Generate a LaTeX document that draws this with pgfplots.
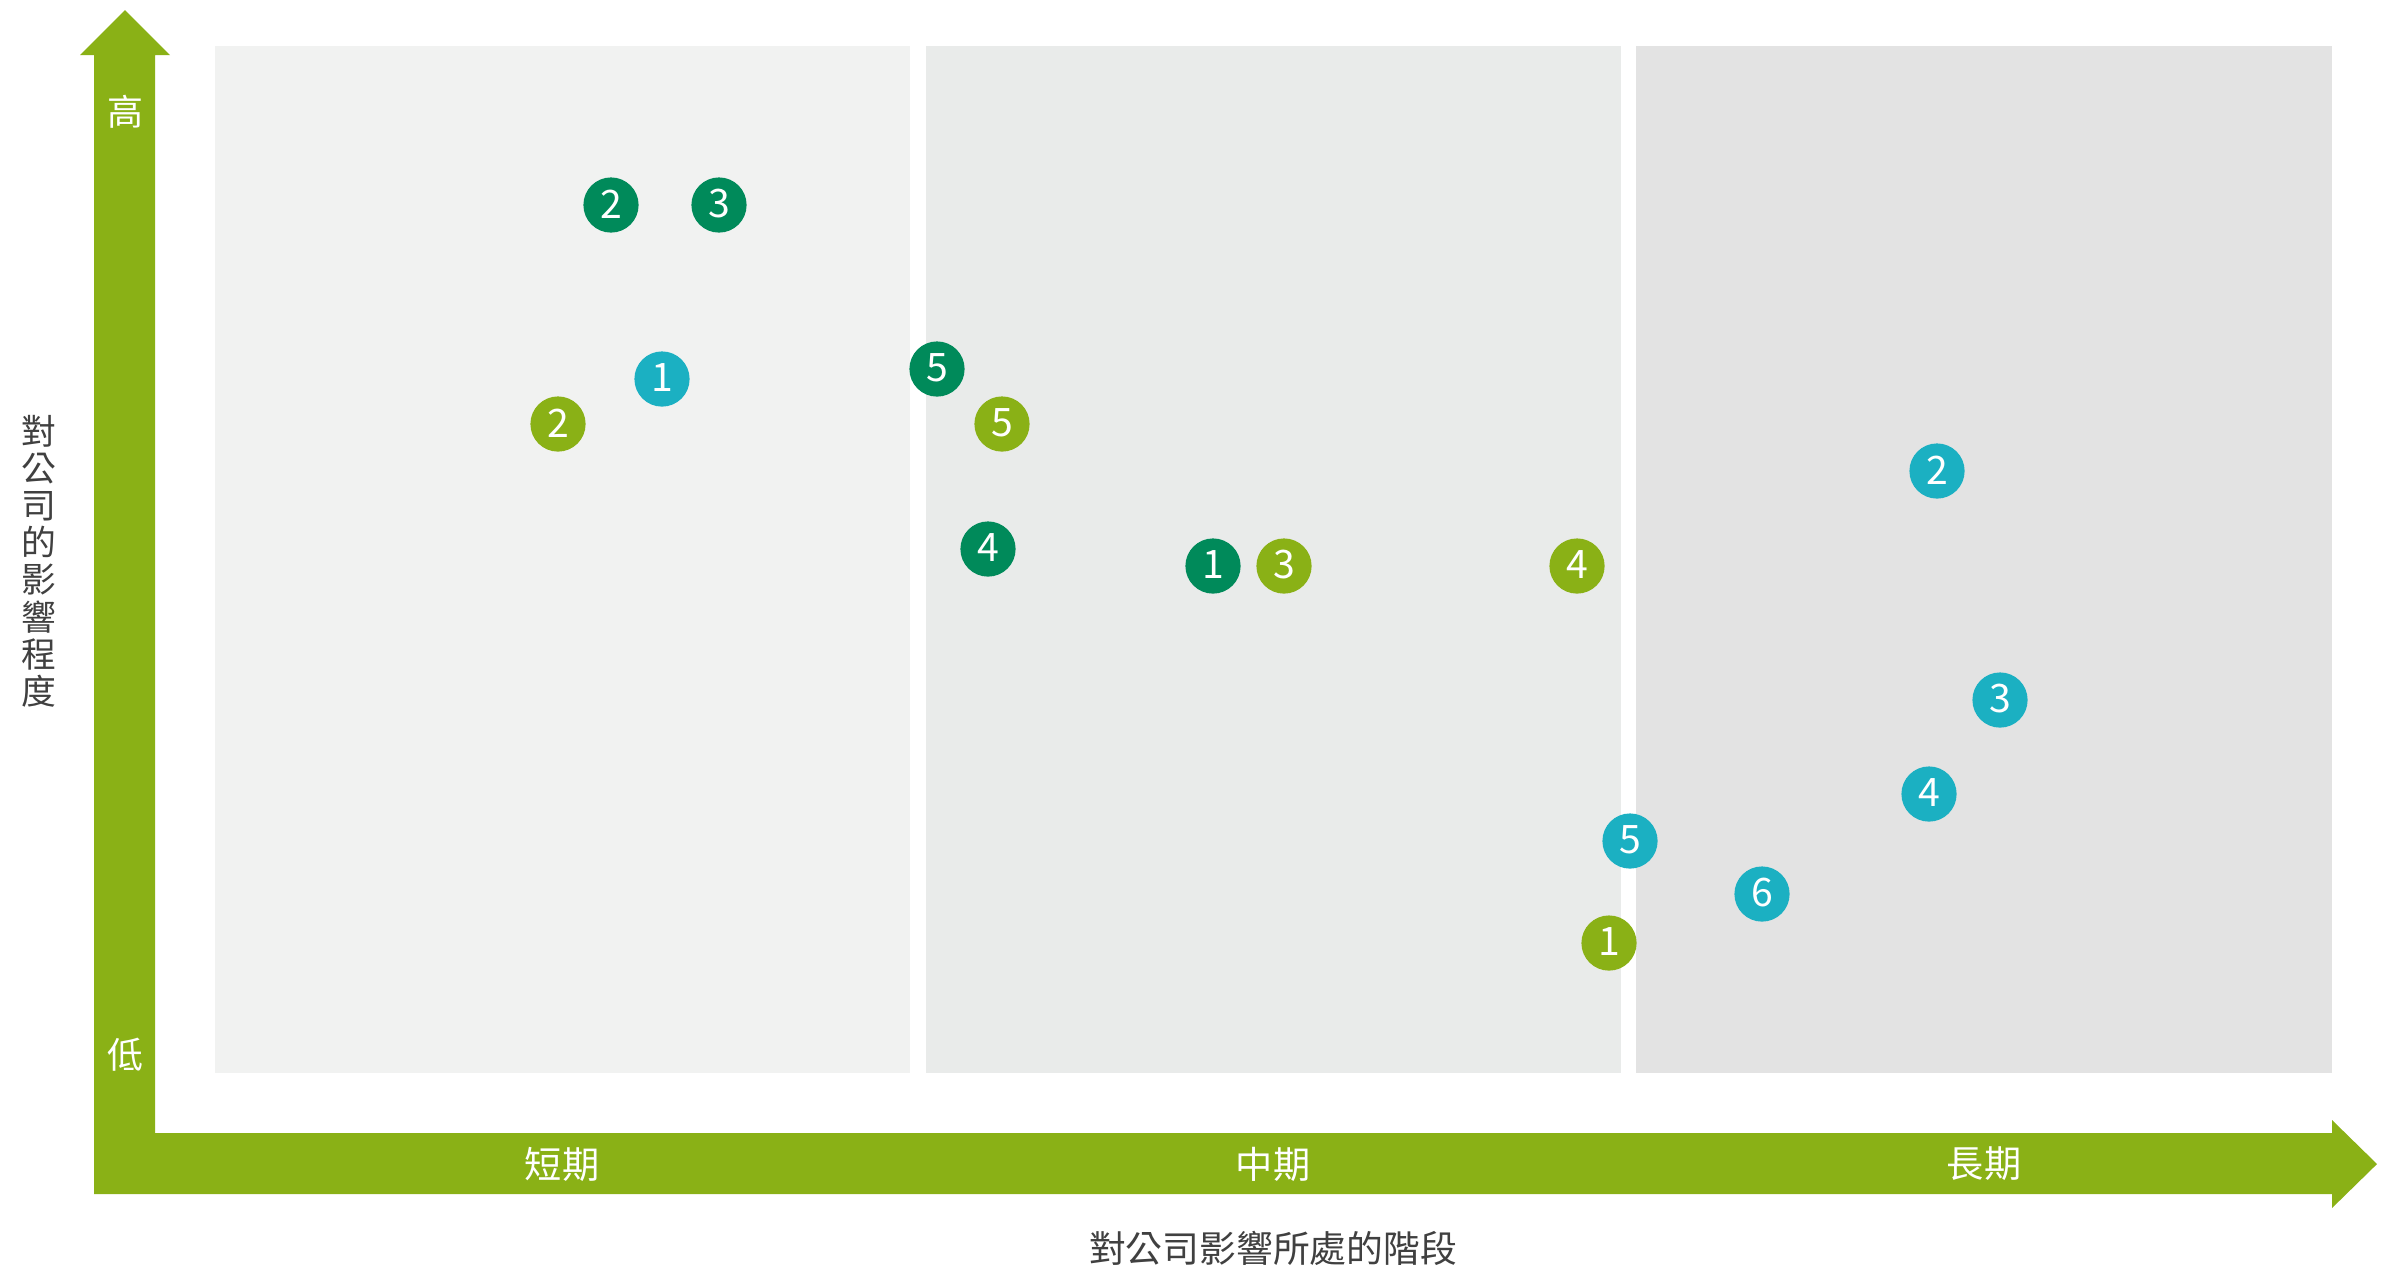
\documentclass[border=0pt]{standalone}
\usepackage{fontspec}
\setmainfont{Noto Sans CJK TC}
\usepackage{pgfplots}
\pgfplotsset{compat=1.18}
\usepackage{pgfplotstable}

\definecolor{arrowgreen}{RGB}{138,177,22}
\definecolor{darkgreen}{RGB}{0,138,90}
\definecolor{teal}{RGB}{27,176,194}
\definecolor{panelA}{RGB}{241,242,241}
\definecolor{panelB}{RGB}{233,235,234}
\definecolor{panelC}{RGB}{227,227,227}
\definecolor{labelgray}{RGB}{64,64,64}

% bubble positions (x: stage, y: impact; picture units, y grows downward)
\pgfplotstableread{
x y label
1213 566 1
611 205 2
719 205 3
988 549 4
937 369 5
}\darkpts
\pgfplotstableread{
x y label
1609 943 1
558 424 2
1284 566 3
1577 566 4
1002 424 5
}\lightpts
\pgfplotstableread{
x y label
662 379 1
1937 471 2
2000 700 3
1929 794 4
1630 841 5
1762 894 6
}\tealpts

\begin{document}
\begin{tikzpicture}
\useasboundingbox (0,0) rectangle (598.75pt,317pt);
\begin{axis}[
  at={(0,0)}, anchor=south west,
  scale only axis, width=598.75pt, height=317pt,
  xmin=0, xmax=2395, ymin=0, ymax=1268, y dir=reverse,
  axis lines=none, clip=false,
  bubble/.style={only marks, mark=*, mark size=6.7pt,
    nodes near coords, point meta=explicit symbolic,
    nodes near coords style={anchor=center, text=white, font=\fontsize{9.8}{10}\selectfont, yshift=0.3pt}},
]
% stage panels
\addplot[fill=panelA, draw=none] coordinates {(215,46) (910,46) (910,1073) (215,1073)} -- cycle;
\addplot[fill=panelB, draw=none] coordinates {(926,46) (1621,46) (1621,1073) (926,1073)} -- cycle;
\addplot[fill=panelC, draw=none] coordinates {(1636,46) (2332,46) (2332,1073) (1636,1073)} -- cycle;
% L-shaped arrows
\addplot[fill=arrowgreen, draw=none] coordinates {
  (94,1194) (94,55) (80,55) (125,10) (170,55) (155,55) (155,1133)
  (2332,1133) (2332,1120) (2377,1164) (2332,1208) (2332,1194)} -- cycle;
% bubbles
\addplot[bubble, color=darkgreen, mark options={fill=darkgreen, draw=darkgreen}] table[meta=label] {\darkpts};
\addplot[bubble, color=arrowgreen, mark options={fill=arrowgreen, draw=arrowgreen}] table[meta=label] {\lightpts};
\addplot[bubble, color=teal, mark options={fill=teal, draw=teal}] table[meta=label] {\tealpts};
% texts
\node[text=white, font=\fontsize{9}{10}\selectfont] at (axis cs:125,112) {高};
\node[text=white, font=\fontsize{9}{10}\selectfont] at (axis cs:125,1055) {低};
\node[text=white, font=\fontsize{9.3}{10}\selectfont] at (axis cs:562,1164) {短期};
\node[text=white, font=\fontsize{9.3}{10}\selectfont] at (axis cs:1273,1164) {中期};
\node[text=white, font=\fontsize{9.3}{10}\selectfont] at (axis cs:1984,1164) {長期};
\node[text=labelgray, font=\fontsize{9.2}{10}\selectfont] at (axis cs:1273,1248) {對公司影響所處的階段};
\node[text=labelgray, align=center, inner sep=0pt, font=\fontsize{8.7}{9.3}\selectfont] at (axis cs:39,561)
  {對\\公\\司\\的\\影\\響\\程\\度};
\end{axis}
\end{tikzpicture}
\end{document}
